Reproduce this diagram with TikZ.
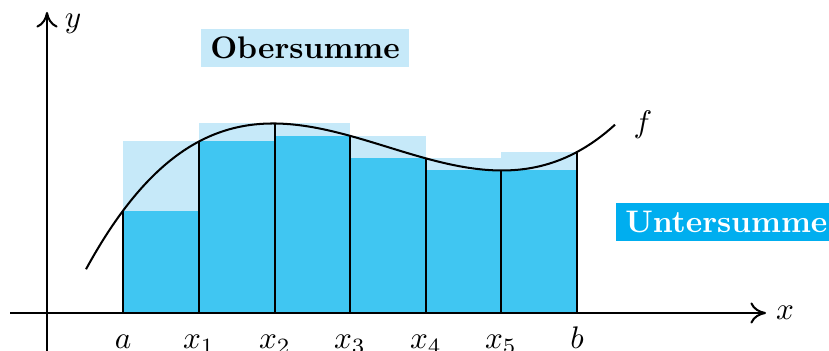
\documentclass[tikz,border=0pt]{standalone}
\usetikzlibrary{arrows.meta}
\definecolor{uppercol}{HTML}{C6E9F9}
\definecolor{lowercol}{HTML}{40C6F2}
\definecolor{deepcol}{HTML}{00AEEF}
\begin{document}
\begin{tikzpicture}[x=0.3205pt,y=-0.3205pt,
  declare function={fy(\t)=123.5+((\t-275)/100)+26.5*((\t-275)/100)^2-7.85*((\t-275)/100)^3;},
  axisline/.style={line width=0.65pt,-{To[length=5pt,width=6.8pt]}},
  stroke/.style={line width=0.65pt},
  tick/.style={anchor=base,inner sep=0pt},
  sumlabel/.style={font=\bfseries,inner xsep=3.1pt,inner ysep=2.65pt,text height=6.9pt,text depth=0pt}]
\useasboundingbox (0,0) rectangle (829,351);
% upper sum
\fill[uppercol] (123,313) rectangle (199,{fy(199)});
\fill[uppercol] (199,313) rectangle (275,{fy(275)});
\fill[uppercol] (275,313) rectangle (350,{fy(275)});
\fill[uppercol] (350,313) rectangle (426,{fy(350)});
\fill[uppercol] (426,313) rectangle (501,{fy(426)});
\fill[uppercol] (501,313) rectangle (577,{fy(577)});
% lower sum
\fill[lowercol] (123,313) rectangle (199,{fy(123)});
\fill[lowercol] (199,313) rectangle (275,{fy(199)});
\fill[lowercol] (275,313) rectangle (350,{fy(350)});
\fill[lowercol] (350,313) rectangle (426,{fy(426)});
\fill[lowercol] (426,313) rectangle (501,{fy(501)});
\fill[lowercol] (501,313) rectangle (577,{fy(501)});
% partition lines
\foreach \t in {123,199,275,350,426,501,577}
  \draw[stroke] (\t,313) -- (\t,{fy(\t)});
% curve
\draw[stroke] plot[domain=86:615,samples=120,smooth] (\x,{fy(\x)});
% axes
\coordinate (xs) at (10,313);
\coordinate (xe) at (766,313);
\coordinate (ys) at (47,351);
\coordinate (ye) at (47,12);
\draw[axisline] (xs) -- (xe);
\draw[axisline] (ys) -- (ye);
\node (lx) at (785,313) {$x$};
\node (ly) at (73,24) {$y$};
\node (lf) at (643,125) {$f$};
% ticks
\node[tick] (ta) at (123,349) {$a$};
\node[tick] (t1) at (199,349) {$x_1$};
\node[tick] (t2) at (275,349) {$x_2$};
\node[tick] (t3) at (350,349) {$x_3$};
\node[tick] (t4) at (426,349) {$x_4$};
\node[tick] (t5) at (501,349) {$x_5$};
\node[tick] (tb) at (577,349) {$b$};
% labels
\node[sumlabel,fill=uppercol] (ober) at (305,48) {Obersumme};
\node[sumlabel,fill=deepcol,text=white,anchor=west] (unter) at (615,222) {Untersumme};
\end{tikzpicture}
\end{document}
